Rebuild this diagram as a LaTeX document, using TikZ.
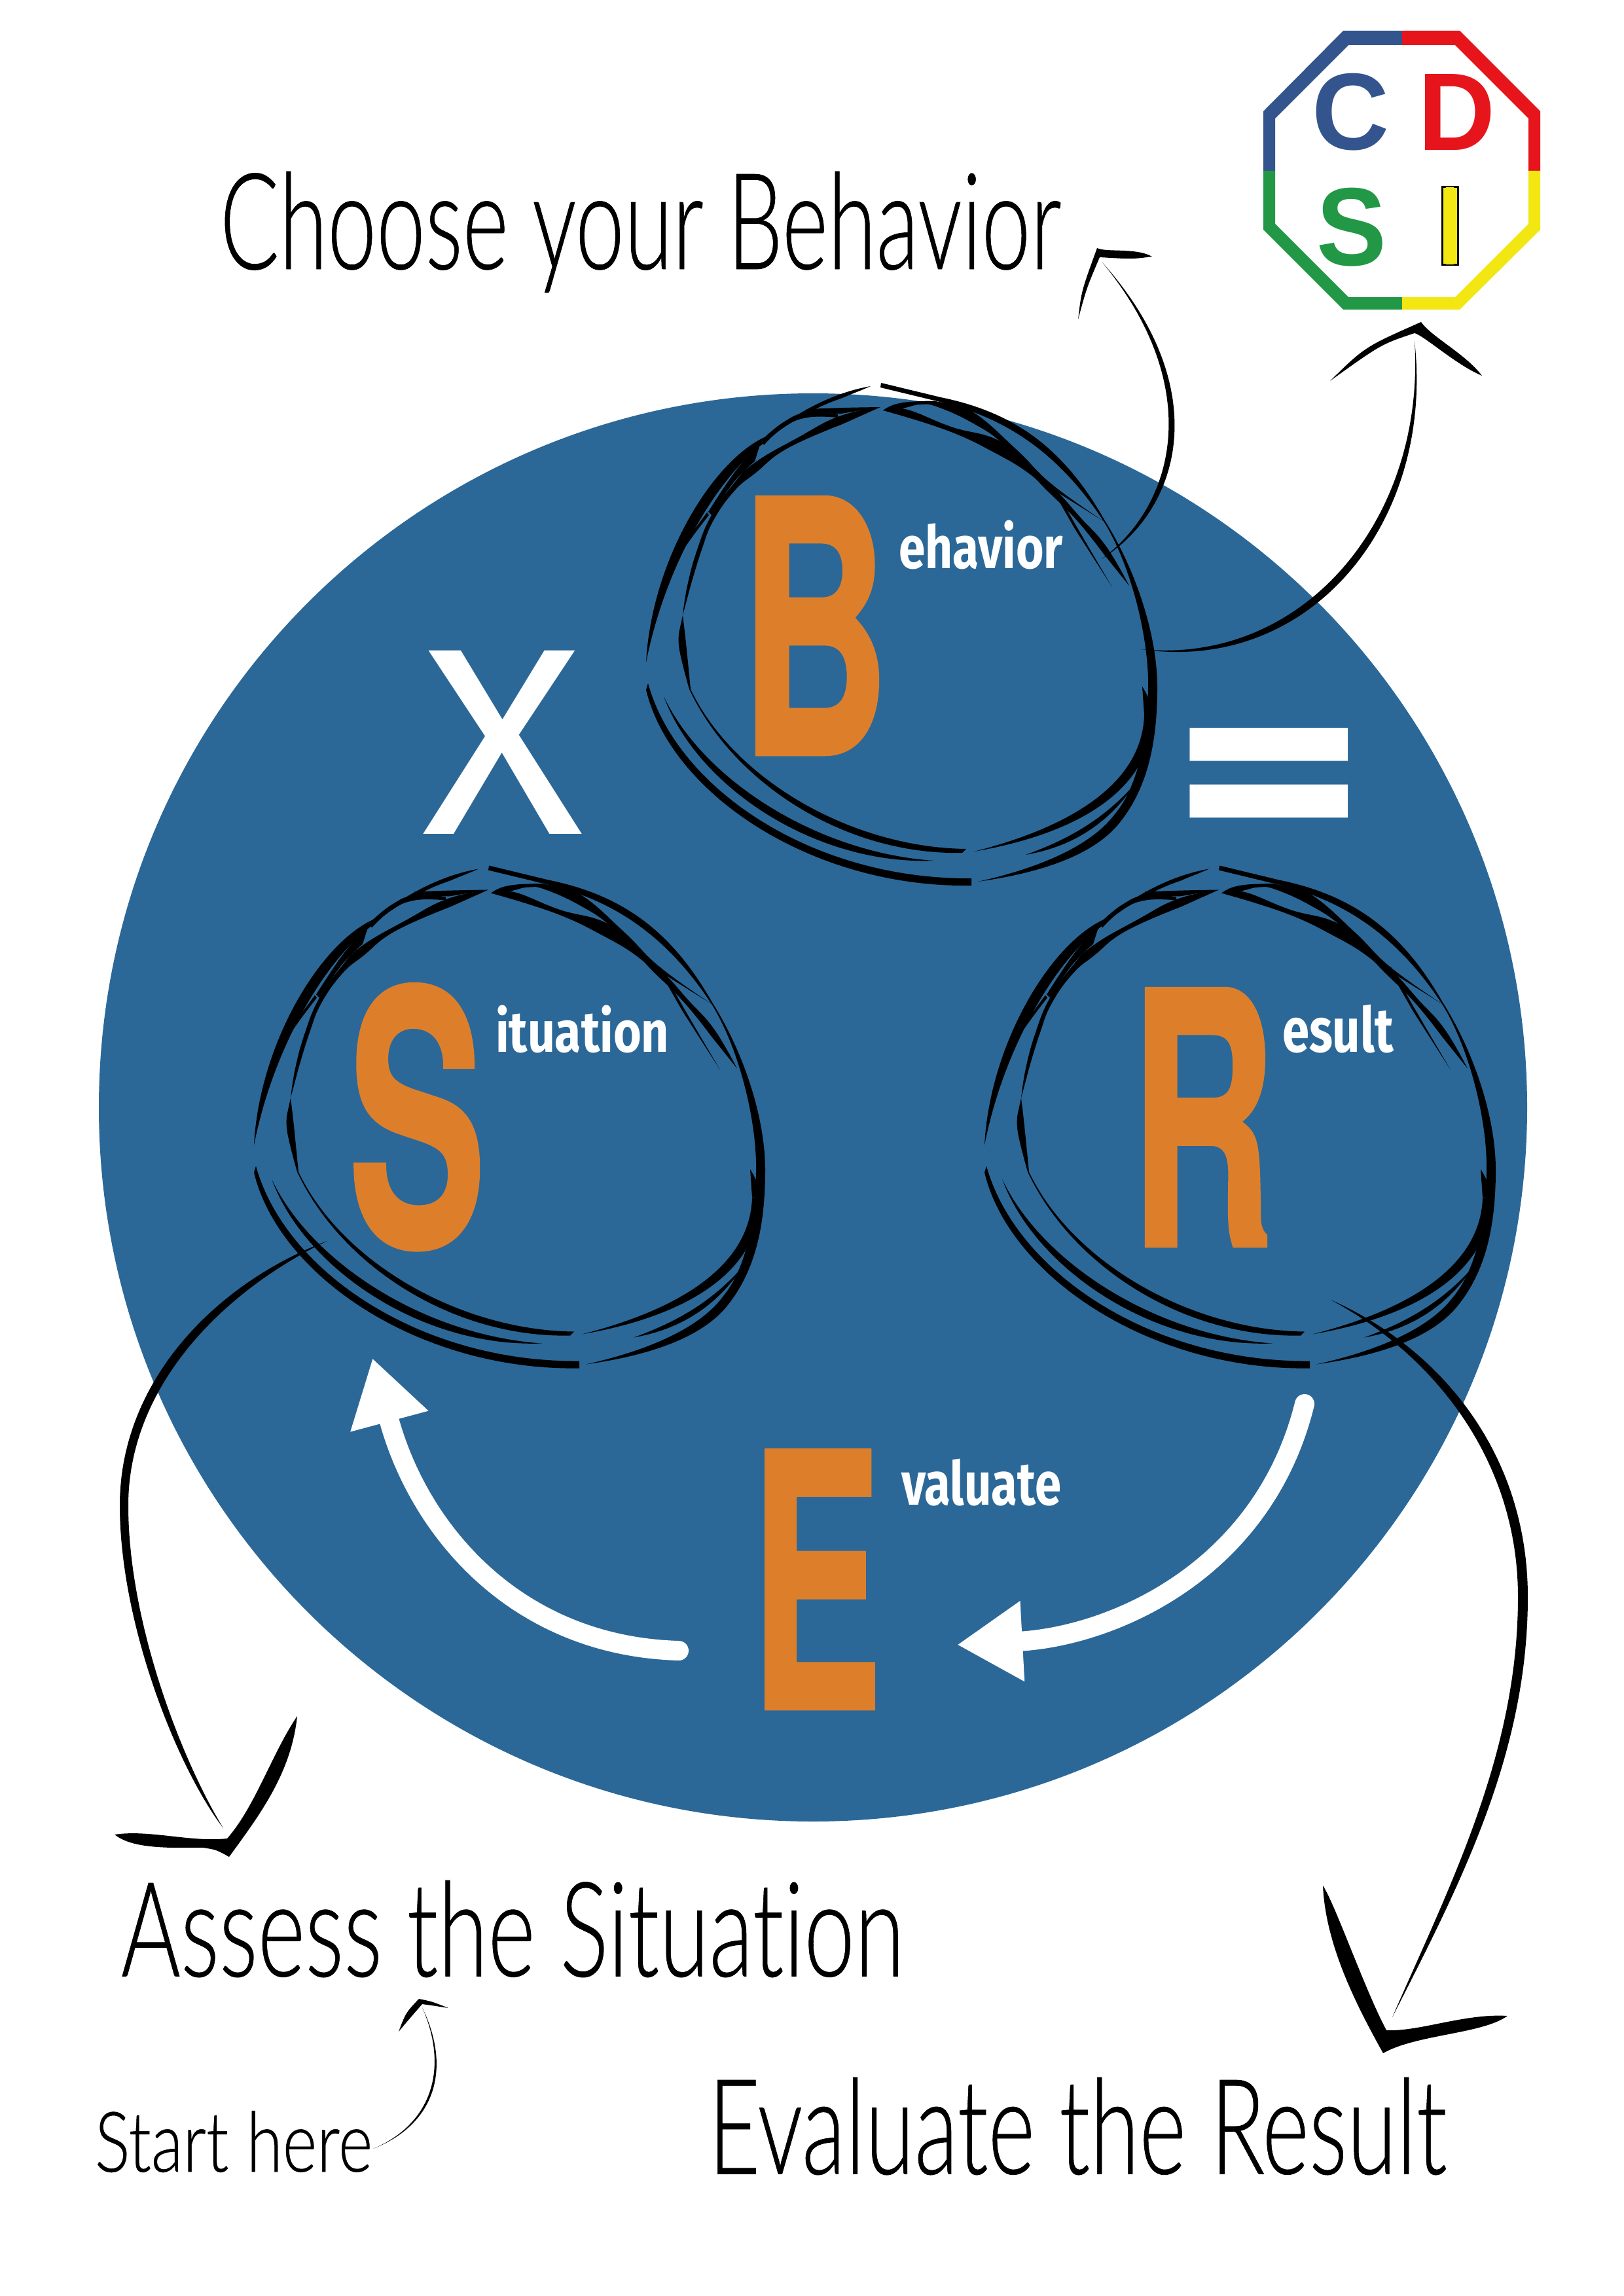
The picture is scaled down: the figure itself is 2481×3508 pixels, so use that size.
\documentclass[tikz,border=0pt]{standalone}
\usepackage{graphicx}
\usepackage{fontspec}
\newfontfamily\handfont[Ligatures=NoCommon,FakeBold=0.4]{Lato Light}
\newfontfamily\capfont[BoldFeatures={FakeBold=1.2}]{TeX Gyre Heros}
\newfontfamily\wordfont{Fira Sans}
\newfontfamily\logofont{Liberation Sans}
\usetikzlibrary{arrows.meta,positioning}
\definecolor{discblue}{HTML}{2B6898}
\definecolor{capsorange}{HTML}{DD7F2A}
\definecolor{logoblue}{HTML}{33548D}
\definecolor{logored}{HTML}{E6151B}
\definecolor{logogreen}{HTML}{229846}
\definecolor{logoyellow}{HTML}{F2E613}
% box of exact width and total height
\newcommand{\fitted}[3]{\resizebox*{#1}{#2}{#3}}
% one pen stroke, out along one edge and back along the other
\newcommand{\penline}[2]{\fill plot[smooth,tension=0.75] coordinates {#1} -- plot[smooth,tension=0.75] coordinates {#2} -- cycle;}
\tikzset{
  capsletter/.style={inner sep=0,outer sep=0,anchor=north west,text=capsorange,font=\capfont\bfseries},
  wordlabel/.style={inner sep=0,outer sep=0,text=white,font=\wordfont\bfseries},
  handtext/.style={inner sep=0,outer sep=0,anchor=north west,text=black,font=\handfont},
  logoletter/.style={inner sep=0,outer sep=0,anchor=north west,font=\logofont\bfseries},
  whitearrow/.style={draw=white,line width=3mm,line cap=round},
  scribble/.pic={
    % outer ring
    \fill (446,35) -- (537,57) .. controls (650,80) and (725,135) .. (787,244) .. controls (835,320) and (868,420) .. (868,500) .. controls (868,580) and (855,650) .. (812,705) .. controls (770,760) and (680,785) .. (594,797)
      .. controls (680,778) and (765,745) .. (803,694) .. controls (840,650) and (855,570) .. (854,488) .. controls (852,410) and (825,310) .. (787,248) .. controls (720,145) and (640,90) .. (540,65) -- (445,42) -- cycle;
    \fill (584,792) .. controls (340,794) and (134,654) .. (90,494) -- (87,504) .. controls (125,662) and (340,807) .. (584,803) -- cycle;
    \fill (87,462) .. controls (95,310) and (186,155) .. (270,117) .. controls (325,75) and (375,50) .. (430,40)
      .. controls (415,47) and (400,52) .. (387,58) .. controls (345,72) and (300,97) .. (263,130) .. controls (190,187) and (115,320) .. (87,462) -- cycle;
    % second ring
    \fill (527,765) .. controls (345,772) and (165,652) .. (114,514) .. controls (175,643) and (350,753) .. (527,765) -- cycle;
    \fill (576,747) .. controls (400,745) and (220,640) .. (155,503) -- (153,503) .. controls (222,650) and (395,757) .. (570,753) -- cycle;
    \penline{(155,503) (148,433) (143,390)}
             {(138,413) (138,443) (153,503)}
    % top left
    \penline{(182,232) (222,172) (263,123)}
             {(253,155) (220,188) (187,237)}
    \penline{(445,72) (382,86) (320,118) (253,157) (220,190) (187,237) (165,290) (150,345) (143,390)}
             {(155,345) (172,290) (190,245) (222,200) (255,172) (303,135) (387,98)}
    \penline{(380,83) (333,80) (297,95) (263,123)}
             {(267,130) (297,103) (333,88) (380,88)}
    \penline{(445,72) (390,73) (332,75)}
             {(333,81) (385,82)}
    \penline{(138,288) (160,260) (180,233)}
             {(183,237) (163,263) (143,291)}
    % top right
    \penline{(449,77) (470,67) (507,63) (540,65) (587,80) (653,137) (707,190) (787,247)}
             {(707,197) (635,130) (587,97) (533,72) (507,68) (483,73) (460,78)}
    \penline{(449,77) (483,75) (553,102) (635,128) (707,193) (750,240) (790,285) (825,345)}
             {(785,295) (745,245) (700,200) (670,172) (620,142) (553,110) (470,83)}
    \penline{(708,190) (745,255) (799,347)}
             {(742,258) (706,195)}
    % bottom right
    \penline{(845,499) (856,520) (861,542)}
             {(848,542)}
    \fill (861,542) .. controls (860,660) and (740,725) .. (588,751) .. controls (730,715) and (845,650) .. (848,542) -- cycle;
    \fill (836,645) .. controls (790,715) and (730,745) .. (667,756) .. controls (725,735) and (785,705) .. (836,645) -- cycle;
  }
}

\begin{document}
\begin{tikzpicture}[x=0.1mm,y=-0.1mm]
	\useasboundingbox[fill=white] (0,0) rectangle (2481,3508);
	
	\node[circle,fill=discblue,inner sep=0,minimum size=218.2mm] (disc) at (1242,1692) {};
	
	% rings
	\pic at (900,550) {scribble};
	\pic at (301,1287.5) {scribble};
	\pic at (1417,1287.5) {scribble};
	
	% letters
	\node[capsletter] (letterb) at (1130,760) {\fitted{22.9mm}{39.2mm}{B}};
	\node[capsletter] (letters) at (532,1504) {\fitted{21mm}{40.5mm}{S}};
	\node[capsletter] (letterr) at (1726,1511) {\fitted{22.2mm}{39.2mm}{R}};
	\node[capsletter] (lettere) at (1146,2216) {\fitted{20.2mm}{39.4mm}{E}};
	
	\node[wordlabel,below right=3.5mm and 1.4mm of letterb.north east] (behavior) {\fitted{25.1mm}{7.5mm}{ehavior}};
	\node[wordlabel,below right=3.2mm and 1.5mm of letters.north east] (situation) {\fitted{26.5mm}{7.3mm}{ituation}};
	\node[wordlabel,below right=2.4mm and 1.1mm of letterr.north east] (result) {\fitted{17mm}{7.4mm}{esult}};
	\node[wordlabel,below right=1.3mm and 2.9mm of lettere.north east] (evaluate) {\fitted{24.4mm}{7.2mm}{valuate}};
	
	\node[inner sep=0,outer sep=0,text=white,font=\wordfont,anchor=north west] (times) at (644,994) {\fitted{24.7mm}{28mm}{X}};
	\node[wordlabel,anchor=north west] (equals) at (1790,1112) {\fitted{29.7mm}{20.6mm}{=}};
	
	% titles
	\node[handtext] (choose) at (336,262) {\fitted{128.5mm}{18.5mm}{Choose your Behavior}};
	\node[handtext] (assess) at (185,2873) {\fitted{119.6mm}{14.8mm}{Assess the Situation}};
	\node[handtext] (start) at (145,3225) {\fitted{42.4mm}{9.4mm}{Start here}};
	\node[handtext] (evaluatetitle) at (1082,3174) {\fitted{112.8mm}{14.9mm}{Evaluate the Result}};
	
	% logo
	\fill[logoblue] (2142,47) -- (2052,47) -- (1930,170) -- (1930,261) -- (1948,261) -- (1948,181) -- (2060,69) -- (2142,69) -- cycle;
	\fill[logored] (2142,47) -- (2230,47) -- (2353,170) -- (2353,261) -- (2335,261) -- (2335,181) -- (2223,69) -- (2142,69) -- cycle;
	\fill[logogreen] (1930,261) -- (1930,351) -- (2052,473) -- (2142,473) -- (2142,454) -- (2060,454) -- (1948,342) -- (1948,261) -- cycle;
	\fill[logoyellow] (2353,261) -- (2353,351) -- (2230,473) -- (2142,473) -- (2142,454) -- (2223,454) -- (2335,342) -- (2335,261) -- cycle;
	\node[logoletter,text=logoblue] (logoc) at (2004,112) {\fitted{11.8mm}{11.8mm}{C}};
	\node[logoletter,text=logored] (logod) at (2166,113) {\fitted{11.8mm}{11.6mm}{D}};
	\node[logoletter,text=logogreen] (logos) at (2011,287) {\fitted{10.7mm}{12mm}{S}};
	\node[logoletter,text=logoyellow,fill=logoyellow,draw=black,line width=0.3mm] (logoi) at (2203,286) {\fitted{2.4mm}{11.8mm}{I}};
	
	% choose your behavior
	\coordinate (chooseout) at (1683,854);
	\coordinate (choosein) at (1684,401);
	\coordinate (choosetip) at (1676,379);
	\fill (chooseout) .. controls (1808,775) and (1853,590) .. (choosein) .. controls (1840,590) and (1797,770) .. (chooseout);
	\fill (1647,488) .. controls (1652,445) .. (choosetip) .. controls (1690,386) and (1735,378) .. (1760,392) .. controls (1730,396) .. (1680,393) .. controls (1660,440) .. (1647,488);
	
	% logo
	\coordinate (logoout) at (1743,992);
	\coordinate (logoin) at (2161,521);
	\coordinate (logotip) at (2171,492);
	\fill (logoout) .. controls (2000,1030) and (2192,800) .. (logoin) .. controls (2178,795) and (1990,1016) .. (logoout);
	\fill (2032,582) .. controls (2085,530) .. (logotip) .. controls (2187,515) and (2238,540) .. (2264,574) .. controls (2225,558) and (2176,513) .. (2161,509) .. controls (2110,526) .. (2032,582);
	
	% assess the situation
	\coordinate (assessout) at (500,1896);
	\coordinate (assessleft) at (183,2300);
	\coordinate (assessin) at (341,2793);
	\coordinate (assessback) at (196,2300);
	\coordinate (assesstip) at (350,2837);
	\fill (assessout) .. controls (330,1960) and (183,2110) .. (assessleft) .. controls (183,2480) and (270,2700) .. (assessin) .. controls (278,2690) and (196,2480) .. (assessback) .. controls (196,2115) and (345,1970) .. (assessout);
	\fill (454,2622) .. controls (415,2680) and (390,2760) .. (347,2809) .. controls (291,2815) and (228,2795) .. (175,2803) .. controls (200,2822) and (240,2824) .. (310,2823) .. controls (330,2826) .. (assesstip) .. controls (395,2775) and (445,2710) .. (454,2622);
	
	% evaluate the result
	\coordinate (resultout) at (2033,1986);
	\coordinate (resultright) at (2334,2440);
	\coordinate (resultin) at (2127,3082);
	\coordinate (resultback) at (2319,2440);
	\coordinate (resulttip) at (2113,3137);
	\fill (resultout) .. controls (2200,2060) and (2334,2220) .. (resultright) .. controls (2334,2680) and (2230,2880) .. (resultin) .. controls (2215,2880) and (2319,2680) .. (resultback) .. controls (2319,2230) and (2190,2070) .. (resultout);
	\fill (2021,2881) .. controls (2040,2910) and (2085,3040) .. (2118,3102) .. controls (2170,3104) and (2237,3076) .. (2303,3080) .. controls (2264,3108) and (2164,3108) .. (resulttip) .. controls (2070,3060) and (2025,2970) .. (2021,2881);
	
	% start here
	\coordinate (startout) at (570,3283);
	\coordinate (startin) at (645,3067);
	\coordinate (starttip) at (640,3054);
	\fill (startout) .. controls (666,3245) and (690,3160) .. (startin) .. controls (686,3160) and (660,3245) .. (startout);
	\fill (609,3104) .. controls (620,3075) .. (starttip) .. controls (660,3058) .. (685,3068) .. controls (660,3064) .. (645,3062) .. controls (625,3085) .. (609,3104);
	
	% cycle arrows
	\coordinate (evalstart) at (1993,2145);
	\coordinate (evalend) at (1462,2513);
	\coordinate (backstart) at (1037,2522);
	\coordinate (backend) at (569,2075);
	\draw[whitearrow,-{Triangle[length=10mm,width=11.6mm]}] (evalstart) .. controls (1930,2400) and (1700,2500) .. (evalend);
	\draw[whitearrow,-{Triangle[length=10mm,width=11.6mm]}] (backstart) .. controls (790,2515) and (640,2340) .. (backend);
\end{tikzpicture}
\end{document}
